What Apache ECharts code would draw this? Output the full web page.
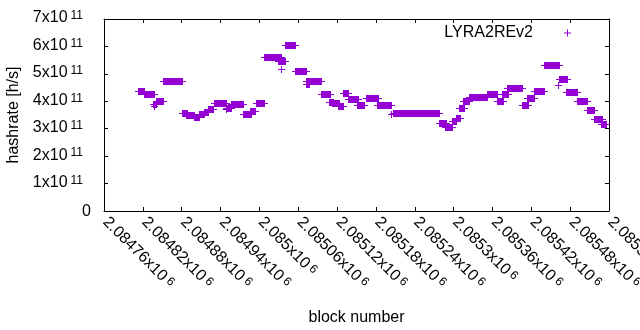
<!DOCTYPE html>
<html lang="en">
<head>
    <meta charset="UTF-8">
    <title>LYRA2REv2 hashrate</title>
    <script src="https://cdn.jsdelivr.net/npm/echarts@6/dist/echarts.min.js"></script>
    <style>
        html, body {
            margin: 0;
            padding: 0;
            background: #fff;
        }

        #chart1 {
            width: 640px;
            height: 330px;
        }
    </style>
</head>
<body>
<div id="chart1"></div>

<script>
    // runs of (nearly) equal hashrate: first block, last block, value
    // a run with start == end is a single point
    var segStart = [2084812, 2084822, 2084836, 2084837, 2084841, 2084851, 2084880, 2084887, 2084899, 2084907,
        2084914, 2084921, 2084930, 2084948, 2084948, 2084956, 2084975, 2084985, 2084995, 2085007,
        2085029, 2085033, 2085040, 2085055, 2085072, 2085072, 2085095, 2085108, 2085112, 2085121,
        2085129, 2085137, 2085151, 2085165, 2085182, 2085203, 2085206, 2085277, 2085287, 2085298,
        2085304, 2085308, 2085315, 2085324, 2085352, 2085367, 2085375, 2085382, 2085406, 2085413,
        2085424, 2085440, 2085461, 2085463, 2085474, 2085491, 2085506, 2085517, 2085528];
    var segEnd = [2084822, 2084837, 2084841, 2084837, 2084851, 2084880, 2084888, 2084899, 2084907, 2084914,
        2084921, 2084928, 2084948, 2084956, 2084948, 2084975, 2084987, 2084993, 2085007, 2085033,
        2085040, 2085033, 2085055, 2085072, 2085095, 2085077, 2085109, 2085114, 2085123, 2085129,
        2085137, 2085152, 2085162, 2085183, 2085203, 2085203, 2085277, 2085288, 2085298, 2085304,
        2085310, 2085316, 2085324, 2085352, 2085367, 2085376, 2085384, 2085406, 2085415, 2085424,
        2085440, 2085463, 2085461, 2085475, 2085491, 2085506, 2085517, 2085529, 2085535];
    var segRate = [4.37e11, 4.25e11, 3.89e11, 3.81e11, 4.00e11, 4.73e11, 3.58e11, 3.50e11, 3.41e11, 3.52e11,
        3.62e11, 3.73e11, 3.93e11, 3.76e11, 3.71e11, 3.89e11, 3.53e11, 3.64e11, 3.93e11, 5.60e11,
        5.47e11, 5.17e11, 6.04e11, 5.12e11, 4.73e11, 4.64e11, 4.25e11, 3.99e11, 3.93e11, 3.83e11,
        4.29e11, 4.09e11, 3.86e11, 4.11e11, 3.85e11, 3.54e11, 3.56e11, 3.20e11, 3.07e11, 3.28e11,
        3.40e11, 3.74e11, 4.01e11, 4.15e11, 4.25e11, 4.01e11, 4.27e11, 4.47e11, 3.86e11, 4.11e11,
        4.39e11, 5.31e11, 4.59e11, 4.80e11, 4.34e11, 4.00e11, 3.67e11, 3.34e11, 3.16e11];

    var xMin = 2084760, xMax = 2085540, xStep = 60;
    var yMin = 0, yMax = 7e11, yStep = 1e11;

    var FONT = '"Liberation Sans", Arial, sans-serif';
    var COLOR = '#9400d3';

    var rich = {
        m: {fontSize: 16, lineHeight: 16, fontFamily: FONT, color: '#000', verticalAlign: 'bottom'},
        s: {fontSize: 12, lineHeight: 12, fontFamily: FONT, color: '#000', verticalAlign: 'top', padding: [0, 0, 8, 3]},
        z: {fontSize: 16, lineHeight: 16, fontFamily: FONT, color: '#000', padding: [4, 0, 0, 0]},
        p: {width: 8}
    };

    function xLabel(v) {
        var n = parseFloat((v / 1e6).toFixed(6));
        return '{m|' + n + 'x10}{s|6}';
    }

    function yLabel(v) {
        if (v === 0) return '{z|0}';
        return '{m|' + Math.round(v / 1e11) + 'x10}{s|11}{p|}';
    }

    // gnuplot style "+" points; a run of points one block apart fuses into a bar
    function renderPlus(params, api) {
        var a = api.coord([api.value(0), api.value(2)]);
        var b = api.coord([api.value(1), api.value(2)]);
        var x1 = Math.round(a[0]), x2 = Math.round(b[0]), y = Math.round(a[1]);
        var style = {fill: COLOR};
        return {
            type: 'group',
            children: [
                {type: 'rect', shape: {x: x1, y: y - 3, width: x2 - x1 + 1, height: 7}, style: style},
                {type: 'rect', shape: {x: x1 - 3, y: y, width: x2 - x1 + 7, height: 1}, style: style}
            ]
        };
    }

    var runs = [];
    for (var i = 0; i < segStart.length; i++) {
        runs.push([segStart[i], segEnd[i], segRate[i]]);
    }

    var ctx1 = echarts.init(document.getElementById('chart1'));

    var axisLine = {show: true, onZero: false, lineStyle: {color: '#000', width: 1}};
    var tick = {show: true, inside: true, length: 4, lineStyle: {color: '#000'}};

    ctx1.setOption({
        animation: false,
        backgroundColor: '#fff',
        grid: {left: 104, right: 31, top: 19, bottom: 119, containLabel: false, outerBoundsMode: 'none'},
        legend: {
            right: 64,
            top: 20,
            align: 'right',
            itemWidth: 7,
            itemHeight: 7,
            textStyle: {fontSize: 16, fontFamily: FONT, color: '#000', padding: [0, 26, 0, 0]},
            data: [{name: 'LYRA2REv2', icon: 'path://M0,3H7V4H0Z M3,0H4V7H3Z'}]
        },
        xAxis: [{
            type: 'value',
            min: xMin,
            max: xMax,
            interval: xStep,
            position: 'bottom',
            name: 'block number',
            nameLocation: 'middle',
            nameGap: 99,
            nameTextStyle: {fontSize: 16, fontFamily: FONT, color: '#000'},
            axisLine: axisLine,
            axisTick: tick,
            splitLine: {show: false},
            axisLabel: {
                rotate: -45,
                margin: 10,
                padding: [0, 0, 4, 0],
                formatter: xLabel,
                rich: rich
            }
        }, {
            type: 'value',
            min: xMin,
            max: xMax,
            interval: xStep,
            position: 'top',
            axisLine: axisLine,
            axisTick: tick,
            axisLabel: {show: false},
            splitLine: {show: false}
        }],
        yAxis: [{
            type: 'value',
            min: yMin,
            max: yMax,
            interval: yStep,
            position: 'left',
            name: 'hashrate [h/s]',
            nameLocation: 'middle',
            nameRotate: 90,
            nameGap: 80,
            nameTextStyle: {fontSize: 16, fontFamily: FONT, color: '#000'},
            axisLine: axisLine,
            axisTick: tick,
            splitLine: {show: false},
            axisLabel: {
                margin: 13,
                padding: [0, 0, 2, 0],
                formatter: yLabel,
                rich: rich
            }
        }, {
            type: 'value',
            min: yMin,
            max: yMax,
            interval: yStep,
            position: 'right',
            axisLine: axisLine,
            axisTick: tick,
            axisLabel: {show: false},
            splitLine: {show: false}
        }],
        series: [{
            name: 'LYRA2REv2',
            type: 'custom',
            xAxisIndex: 0,
            yAxisIndex: 0,
            itemStyle: {color: COLOR},
            renderItem: renderPlus,
            encode: {x: [0, 1], y: 2},
            data: runs
        }]
    });
</script>
</body>
</html>
